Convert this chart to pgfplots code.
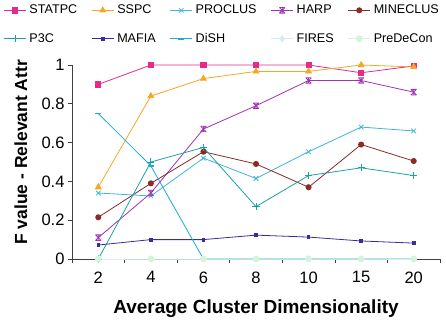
\documentclass[border=0pt]{standalone}
\usepackage{fontspec}
\setmainfont{Liberation Sans}
\usepackage{pgfplots}
\pgfplotsset{compat=1.18}
\definecolor{cstat}{HTML}{E62A8A}
\definecolor{csspc}{HTML}{F5A623}
\definecolor{cproc}{HTML}{3DB5E0}
\definecolor{charp}{HTML}{A032B8}
\definecolor{cmine}{HTML}{8C2B24}
\definecolor{cp3c}{HTML}{1BA3A3}
\definecolor{cmafia}{HTML}{3A2C9C}
\definecolor{cdish}{HTML}{1AABDA}
\definecolor{cfires}{HTML}{D6EAF8}
\definecolor{cpre}{HTML}{D4F4DC}
\pgfdeclareplotmark{xstar}{%
  \pgfpathmoveto{\pgfqpoint{-\pgfplotmarksize}{-\pgfplotmarksize}}%
  \pgfpathlineto{\pgfqpoint{\pgfplotmarksize}{\pgfplotmarksize}}%
  \pgfpathmoveto{\pgfqpoint{-\pgfplotmarksize}{\pgfplotmarksize}}%
  \pgfpathlineto{\pgfqpoint{\pgfplotmarksize}{-\pgfplotmarksize}}%
  \pgfpathmoveto{\pgfqpoint{-\pgfplotmarksize}{\pgfplotmarksize}}%
  \pgfpathlineto{\pgfqpoint{\pgfplotmarksize}{\pgfplotmarksize}}%
  \pgfpathmoveto{\pgfqpoint{-\pgfplotmarksize}{-\pgfplotmarksize}}%
  \pgfpathlineto{\pgfqpoint{\pgfplotmarksize}{-\pgfplotmarksize}}%
  \pgfpathmoveto{\pgfqpoint{0pt}{-\pgfplotmarksize}}%
  \pgfpathlineto{\pgfqpoint{0pt}{\pgfplotmarksize}}%
  \pgfusepathqstroke}
\begin{document}
\begin{tikzpicture}
\useasboundingbox (-72pt,-62pt) rectangle (374pt,259pt);
\begin{axis}[
  at={(0,0)}, anchor=south west,
  scale only axis, width=368pt, height=194pt,
  xmin=-0.5, xmax=6.5, ymin=0, ymax=1,
  axis lines*=left,
  axis line style={draw=black!75, line width=0.8pt},
  tick align=outside,
  major tick length=4pt, minor tick length=4pt,
  tick style={black!75, line width=0.7pt},
  xtick={0,...,6},
  xticklabels={2,4,6,8,10,15,20},
  every major x tick/.append style={draw=none},
  minor xtick={-0.5,0.5,...,6.5},
  ytick={0,0.2,0.4,0.6,0.8,1},
  yticklabels={0,0.2,0.4,0.6,0.8,1},
  tick label style={font=\fontsize{16.5}{19}\selectfont},
  xticklabel style={yshift=-5pt},
  /pgf/number format/assume math mode=true,
  xlabel={Average Cluster Dimensionality},
  ylabel={F value - Relevant Attr},
  xlabel style={font=\fontsize{19}{22}\selectfont\bfseries, at={(axis description cs:0.5,-0.255)}, anchor=center},
  ylabel style={font=\fontsize{17.5}{20}\selectfont\bfseries, at={(axis description cs:-0.139,0.55)}, anchor=center},
  legend columns=5,
  legend style={at={(0.408,1.33)}, anchor=north, draw=none, fill=none,
    font=\fontsize{12.6}{15}\selectfont,
    /tikz/every even column/.append style={column sep=12pt},
    /tikz/every odd column/.append style={column sep=1pt},
    row sep=14pt},
  legend cell align=left,
  legend image code/.code={\draw[mark repeat=2,mark phase=2,#1] plot coordinates {(0cm,0cm) (0.39cm,0cm) (0.78cm,0cm)};},
  every axis plot/.append style={line width=0.8pt},
  clip=false,
]
\addplot[cstat, mark=square*, mark size=2.6pt] coordinates {(0,0.90) (1,1) (2,1) (3,1) (4,1) (5,0.96) (6,0.995)};
\addlegendentry{STATPC}
\addplot[csspc, mark=triangle*, mark size=3.3pt] coordinates {(0,0.37) (1,0.84) (2,0.93) (3,0.967) (4,0.967) (5,1.0) (6,0.99)};
\addlegendentry{SSPC}
\addplot[cproc, mark=x, mark size=3.2pt] coordinates {(0,0.34) (1,0.325) (2,0.52) (3,0.415) (4,0.553) (5,0.68) (6,0.66)};
\addlegendentry{PROCLUS}
\addplot[charp, mark=xstar, mark size=2.8pt] coordinates {(0,0.11) (1,0.34) (2,0.67) (3,0.79) (4,0.92) (5,0.92) (6,0.86)};
\addlegendentry{HARP}
\addplot[cmine, mark=*, mark size=2.6pt] coordinates {(0,0.215) (1,0.39) (2,0.553) (3,0.49) (4,0.37) (5,0.59) (6,0.505)};
\addlegendentry{MINECLUS}
\addplot[cp3c, mark=+, mark size=3.6pt] coordinates {(0,0.0) (1,0.50) (2,0.575) (3,0.27) (4,0.43) (5,0.47) (6,0.43)};
\addlegendentry{P3C}
\addplot[cmafia, mark=square*, mark size=1.3pt] coordinates {(0,0.072) (1,0.10) (2,0.10) (3,0.123) (4,0.113) (5,0.093) (6,0.082)};
\addlegendentry{MAFIA}
\addplot[cdish, mark=-, mark size=3pt, mark options={line width=1.6pt}] coordinates {(0,0.75) (1,0.48) (2,0) (3,0) (4,0) (5,0) (6,0)};
\addlegendentry{DiSH}
\addplot[cfires, mark=diamond*, mark size=3pt] coordinates {(0,0) (1,0) (2,0) (3,0) (4,0) (5,0) (6,0)};
\addlegendentry{FIRES}
\addplot[cpre, mark=*, mark size=3pt] coordinates {(0,0) (1,0) (2,0) (3,0) (4,0) (5,0) (6,0)};
\addlegendentry{PreDeCon}
\end{axis}
\end{tikzpicture}
\end{document}
